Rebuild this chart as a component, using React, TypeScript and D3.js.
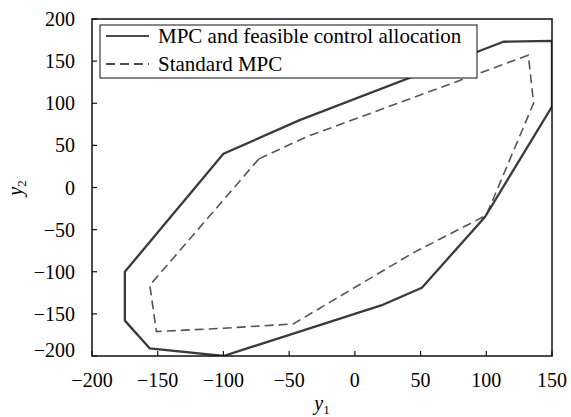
import React from "react";
import * as d3 from "d3";

// Reachable output region boundaries (y1, y2) for the two controllers
const feasibleY1 = [-100, -42, 113, 150, 150, 99, 51, 20, -100, -156, -175, -175];
const feasibleY2 = [40, 80, 173, 174, 96, -35, -119, -140, -200, -191, -158, -100];

const standardY1 = [-73, -37, 132, 136, 100, 45, -47, -100, -151, -156];
const standardY2 = [34, 60, 157, 100, -33, -77, -162, -167, -171, -116];

const xTicks = [-200, -150, -100, -50, 0, 50, 100, 150];
const yTicks = [200, 150, 100, 50, 0, -50, -100, -150, -200];

const legendLabels = ["MPC and feasible control allocation", "Standard MPC"];

const W = 571;
const H = 417;
const margin = { left: 92, right: 19, top: 19, bottom: 61 };
const FONT = '"Liberation Serif", "Times New Roman", Times, serif';
const textStyle: React.CSSProperties = { fontFamily: FONT };

export default function App() {
  const x = d3
    .scaleLinear()
    .domain([-200, 150])
    .range([margin.left, W - margin.right]);
  const y = d3
    .scaleLinear()
    .domain([-200, 200])
    .range([H - margin.bottom, margin.top]);

  const line = d3
    .line<[number, number]>()
    .x((d) => x(d[0]))
    .y((d) => y(d[1]))
    .curve(d3.curveLinearClosed);

  const feasible: [number, number][] = feasibleY1.map((v, i) => [v, feasibleY2[i]]);
  const standard: [number, number][] = standardY1.map((v, i) => [v, standardY2[i]]);

  const x0 = x(-200);
  const x1 = x(150);
  const yTop = y(200);
  const yBot = y(-200);

  const legX = 100;
  const legY = 25;
  const legW = 377;
  const legH = 53;

  const fmt = (t: number) => (t < 0 ? "\u2212" + Math.abs(t) : String(t));

  return (
    <svg
      width={W}
      height={H}
      style={{ position: "absolute", left: 0, top: 0, background: "#fff" }}
    >
      <defs>
        <clipPath id="plotClip">
          <rect x={x0} y={yTop} width={x1 - x0} height={yBot - yTop} />
        </clipPath>
      </defs>

      <g clipPath="url(#plotClip)">
        <path
          d={line(standard) ?? ""}
          fill="none"
          stroke="#555"
          strokeWidth={1.6}
          strokeDasharray="9,5"
        />
        <path
          d={line(feasible) ?? ""}
          fill="none"
          stroke="#3a3a3a"
          strokeWidth={2.3}
          strokeLinejoin="round"
        />
      </g>

      {/* frame */}
      <rect
        x={x0}
        y={yTop}
        width={x1 - x0}
        height={yBot - yTop}
        fill="none"
        stroke="#111"
        strokeWidth={1.5}
      />

      {/* x ticks */}
      {xTicks.map((t) => (
        <g key={"x" + t}>
          <line x1={x(t)} x2={x(t)} y1={yBot} y2={yBot - 5} stroke="#111" strokeWidth={1.2} />
          <text x={x(t)} y={yBot + 31} textAnchor="middle" fontSize={20} fill="#000" style={textStyle}>
            {fmt(t)}
          </text>
        </g>
      ))}

      {/* y ticks */}
      {yTicks.map((t) => (
        <g key={"y" + t}>
          <line x1={x0} x2={x0 + 5} y1={y(t)} y2={y(t)} stroke="#111" strokeWidth={1.2} />
          <text
            x={75}
            y={y(t) + (t === -200 ? -6 : 0)}
            dy="0.35em"
            textAnchor="end"
            fontSize={20}
            fill="#000"
            style={textStyle}
          >
            {fmt(t)}
          </text>
        </g>
      ))}

      {/* axis titles */}
      <text x={(x0 + x1) / 2} y={410} textAnchor="middle" fontSize={20} fill="#000" style={textStyle}>
        <tspan fontStyle="italic">y</tspan>
        <tspan fontSize={13} dy={4}>1</tspan>
      </text>
      <text
        transform={`translate(22,188) rotate(-90)`}
        textAnchor="middle"
        fontSize={20}
        fill="#000"
        style={textStyle}
      >
        <tspan fontStyle="italic">y</tspan>
        <tspan fontSize={13} dy={4}>2</tspan>
      </text>

      {/* legend */}
      <rect x={legX} y={legY} width={legW} height={legH} fill="#fff" stroke="#111" strokeWidth={1} />
      <line x1={106} x2={149} y1={36} y2={36} stroke="#111" strokeWidth={1.3} />
      <text x={158} y={43} fontSize={21} fill="#000" style={textStyle}>
        {legendLabels[0]}
      </text>
      <line
        x1={106}
        x2={149}
        y1={64}
        y2={64}
        stroke="#111"
        strokeWidth={1.3}
        strokeDasharray="9,5"
      />
      <text x={158} y={71} fontSize={21} fill="#000" style={textStyle}>
        {legendLabels[1]}
      </text>
    </svg>
  );
}
